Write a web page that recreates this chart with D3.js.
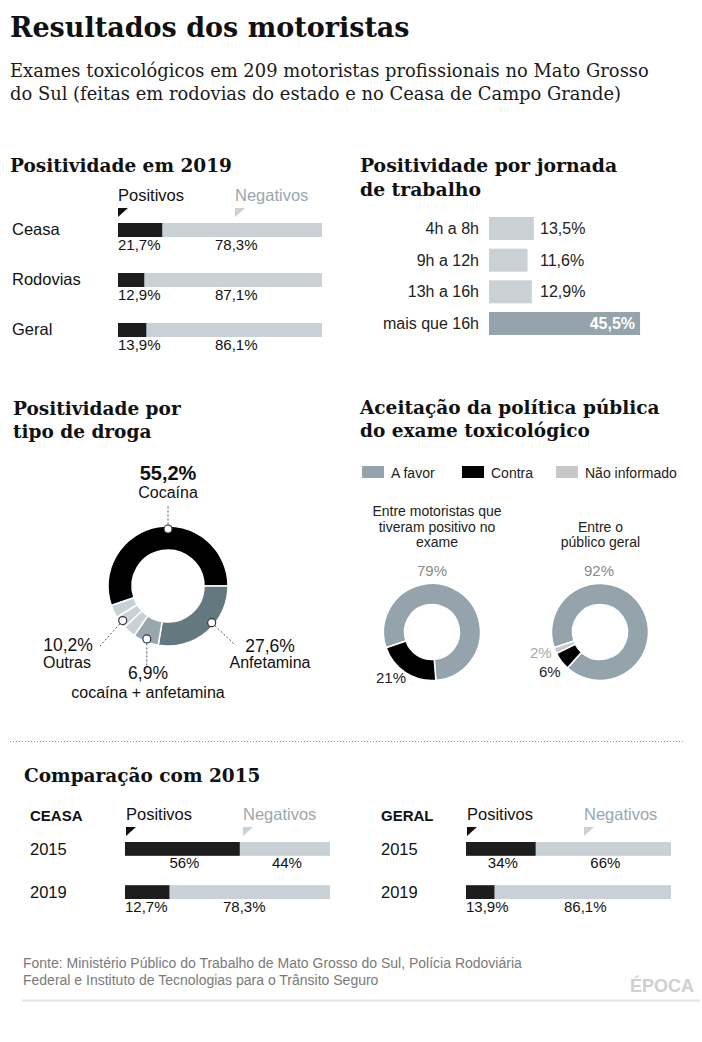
<!DOCTYPE html>
<html>
<head>
<meta charset="utf-8">
<script src="https://cdn.jsdelivr.net/npm/d3@7"></script>
<style>
  body { margin: 0; background: #fff; }
  svg text { font-family: "Liberation Sans", Arial, sans-serif; }
  svg text.serif { font-family: "DejaVu Serif", Georgia, serif; }
</style>
</head>
<body>
<svg id="chart" width="702" height="1042"></svg>
<script>
"use strict";

// ---- data ----
const TITLE = "Resultados dos motoristas";
const SUBTITLE = ["Exames toxicológicos em 209 motoristas profissionais no Mato Grosso",
                  "do Sul (feitas em rodovias do estado e no Ceasa de Campo Grande)"];

// Positividade em 2019
const rows2019 = ["Ceasa", "Rodovias", "Geral"];
const pos2019 = [21.7, 12.9, 13.9];
const neg2019 = [78.3, 87.1, 86.1];

// Positividade por jornada de trabalho
const jornadaLabels = ["4h a 8h", "9h a 12h", "13h a 16h", "mais que 16h"];
const jornadaValues = [13.5, 11.6, 12.9, 45.5];

// Positividade por tipo de droga
const drogaNames = ["Cocaína", "Anfetamina", "cocaína + anfetamina", "Outras"];
const drogaValues = [55.2, 27.6, 6.9, 10.2];
const outrasParts = [3.4, 3.4, 3.4];   // "Outras" is drawn in three small pieces

// Aceitação da política pública
const aceitacaoCats = ["A favor", "Contra", "Não informado"];
const aceitacaoMotoristas = [79, 21, 0];
const aceitacaoPublico = [92, 6, 2];
const aceitacaoCaptions = [["Entre motoristas que", "tiveram positivo no", "exame"],
                           ["Entre o", "público geral"]];

// Comparação com 2015
const compYears = ["2015", "2019"];
const ceasaPos = [56, 21.7];          // 2019 bar drawn as 21,7 in the original
const ceasaNeg = [44, 78.3];
const ceasaPosText = ["56%", "12,7%"];
const ceasaNegText = ["44%", "78,3%"];
const geralPos = [34, 13.9];
const geralNeg = [66, 86.1];
const geralPosText = ["34%", "13,9%"];
const geralNegText = ["66%", "86,1%"];

const FONTE = ["Fonte: Ministério Público do Trabalho de Mato Grosso do Sul, Polícia Rodoviária",
               "Federal e Instituto de Tecnologias para o Trânsito Seguro"];

// ---- styles ----
const BLACK = "#1d1d1d";
const LIGHT = "#c9d0d6";
const NEG_TXT = "#9ba6ae";
const SLATE = "#95a3ac";
const deg = Math.PI / 180;
const START = -109 * deg;

const svg = d3.select("#chart");
svg.append("rect").attr("width", 702).attr("height", 1042).attr("fill", "#fff");

function fmt(v) { return String(v).replace(".", ",") + "%"; }

function text(g, x, y, s, size, opts = {}) {
    return g.append("text")
        .attr("x", x).attr("y", y)
        .attr("font-size", size)
        .attr("fill", opts.fill || "#111")
        .attr("font-weight", opts.weight || 400)
        .attr("text-anchor", opts.anchor || "start")
        .attr("class", opts.serif ? "serif" : null)
        .text(s);
}

function heading(lines, x, y, lh, size = 18.5) {
    lines.forEach((l, i) => text(svg, x, y + i * lh, l, size, { serif: true, weight: 700, fill: "#111" }));
}

// title block
text(svg, 10, 37, TITLE, 27, { serif: true, weight: 700 });
SUBTITLE.forEach((l, i) => text(svg, 10, 77 + i * 23, l, 17.9, { serif: true, fill: "#1a1a1a" }));

// little "pointer" triangles above the split bars
function pointer(g, x, y, color) {
    g.append("path").attr("d", `M${x},${y}L${x + 10},${y}L${x},${y + 9}Z`).attr("fill", color);
}

function legendPosNeg(g, x0, yText) {
    text(g, x0, yText, "Positivos", 16.5, { fill: "#111" });
    text(g, x0 + 117, yText, "Negativos", 16.5, { fill: NEG_TXT });
    pointer(g, x0, yText + 7, "#111");
    pointer(g, x0 + 117, yText + 7, LIGHT);
}

// ---- Positividade em 2019 ----
heading(["Positividade em 2019"], 10, 172, 0);
{
    const g = svg.append("g");
    const x = d3.scaleLinear().domain([0, 100]).range([118, 322]);
    const y = d3.scaleBand().domain(rows2019).range([223, 337]).paddingInner(0.72);
    legendPosNeg(g, 118, 201);
    const data = rows2019.map((r, i) => ({ row: r, pos: pos2019[i], neg: neg2019[i] }));
    g.selectAll("rect.neg").data(data).join("rect").attr("class", "neg")
        .attr("x", d => x(d.pos)).attr("y", d => y(d.row))
        .attr("width", d => x(d.pos + d.neg) - x(d.pos)).attr("height", y.bandwidth())
        .attr("fill", LIGHT);
    g.selectAll("rect.pos").data(data).join("rect").attr("class", "pos")
        .attr("x", x(0)).attr("y", d => y(d.row))
        .attr("width", d => x(d.pos) - x(0)).attr("height", y.bandwidth())
        .attr("fill", BLACK);
    data.forEach(d => {
        text(g, 12, y(d.row) + 12, d.row, 16.5, { fill: "#111" });
        text(g, x(0), y(d.row) + y.bandwidth() + 12.5, fmt(d.pos), 15, { fill: "#111" });
        text(g, x(0) + 97, y(d.row) + y.bandwidth() + 12.5, fmt(d.neg), 15, { fill: "#111" });
    });
}

// ---- Positividade por jornada ----
heading(["Positividade por jornada", "de trabalho"], 360, 172, 23.5, 18.8);
{
    const g = svg.append("g");
    const x = d3.scaleLinear().domain([0, 100]).range([489, 489 + 332]);
    const y = d3.scaleBand().domain(jornadaLabels).range([217, 335]).paddingInner(0.274);
    const data = jornadaLabels.map((l, i) => ({ label: l, value: jornadaValues[i] }));
    const maxV = d3.max(jornadaValues);
    g.selectAll("rect").data(data).join("rect")
        .attr("x", x(0)).attr("y", d => y(d.label))
        .attr("width", d => x(d.value) - x(0)).attr("height", y.bandwidth())
        .attr("fill", d => d.value === maxV ? SLATE : LIGHT);
    data.forEach(d => {
        const cy = y(d.label) + y.bandwidth() / 2 + 5.5;
        text(g, 479, cy, d.label, 16, { anchor: "end", fill: "#222" });
        if (d.value === maxV) {
            text(g, x(d.value) - 5, cy, fmt(d.value), 16, { anchor: "end", fill: "#fff", weight: 700 });
        } else {
            text(g, 540, cy, fmt(d.value), 16, { fill: "#222" });
        }
    });
}

// ---- Positividade por tipo de droga ----
heading(["Positividade por", "tipo de droga"], 13, 415, 22.5);
{
    const cx = 168, cy = 586;
    const colors = { "Cocaína": "#000000", "Anfetamina": "#647880", "cocaína + anfetamina": "#9aa6ae", "Outras": "#c9d1d6" };
    const items = [];
    drogaNames.forEach((n, i) => {
        if (n === "Outras") outrasParts.forEach(v => items.push({ name: n, value: v }));
        else items.push({ name: n, value: drogaValues[i] });
    });
    const pie = d3.pie().sort(null).value(d => d.value).startAngle(START).endAngle(START + 2 * Math.PI);
    const arc = d3.arc().innerRadius(36).outerRadius(60);
    const arcs = pie(items);
    const g = svg.append("g").attr("transform", `translate(${cx},${cy})`);
    g.selectAll("path").data(arcs).join("path")
        .attr("d", arc).attr("fill", d => colors[d.data.name])
        .attr("stroke", "#fff").attr("stroke-width", 1.5);

    // annotation placement (layout only)
    const notes = {
        "Cocaína":              { ang: 0,   end: [0, -80],  pct: [0, -106], name: [0, -88.5], bold: true },
        "Anfetamina":           { ang: 130, end: [66, 58],  pct: [102, 65.5], name: [102, 82] },
        "cocaína + anfetamina": { ang: null, end: null,     pct: [-20, 92.5], name: [-20, 112] },
        "Outras":               { ang: null, end: [-68, 60], pct: [-100, 65], name: [-101, 82] }
    };
    drogaNames.forEach((n, i) => {
        const parts = arcs.filter(a => a.data.name === n);
        const mid = (d3.min(parts, a => a.startAngle) + d3.max(parts, a => a.endAngle)) / 2;
        const nt = notes[n];
        const a = nt.ang === null ? mid : nt.ang * deg;
        const r = 57;
        const mx = r * Math.sin(a), my = -r * Math.cos(a);
        const end = nt.end || [mx, 80];
        const len = Math.hypot(end[0] - mx, end[1] - my);
        const ux = (end[0] - mx) / len, uy = (end[1] - my) / len;
        g.append("line")
            .attr("x1", mx + ux * 4.5).attr("y1", my + uy * 4.5)
            .attr("x2", end[0]).attr("y2", end[1])
            .attr("stroke", "#555").attr("stroke-width", 1).attr("stroke-dasharray", "2,2");
        g.append("circle").attr("cx", mx).attr("cy", my).attr("r", 4)
            .attr("fill", "#fff").attr("stroke", "#334").attr("stroke-width", 1.2);
        text(g, nt.pct[0], nt.pct[1], fmt(drogaValues[i]), nt.bold ? 20 : 17.5,
             { anchor: "middle", weight: nt.bold ? 700 : 400, fill: "#111" });
        text(g, nt.name[0], nt.name[1], n, 16, { anchor: "middle", fill: "#111" });
    });
}

// ---- Aceitação ----
heading(["Aceitação da política pública", "do exame toxicológico"], 360, 414, 22.5);
{
    const colors = { "A favor": SLATE, "Contra": "#000000", "Não informado": "#c8c8c8" };
    const labelColors = { "A favor": "#8a8a8a", "Contra": "#222", "Não informado": "#aaaaaa" };
    const g = svg.append("g");
    const lx = [362, 462, 556];
    aceitacaoCats.forEach((c, i) => {
        g.append("rect").attr("x", lx[i]).attr("y", 466).attr("width", 22).attr("height", 12).attr("fill", colors[c]);
        text(g, lx[i] + 29, 477.5, c, 14, { fill: "#222" });
    });

    const charts = [
        { cx: 432, cy: 632, capX: 437, values: aceitacaoMotoristas, captions: aceitacaoCaptions[0],
          pos: { "A favor": [0, -56, "middle"], "Contra": [-56, 51, "start"] } },
        { cx: 600, cy: 632, capX: 600.5, values: aceitacaoPublico, captions: aceitacaoCaptions[1],
          pos: { "A favor": [-1, -56, "middle"], "Contra": [-61, 45, "start"], "Não informado": [-70, 26, "start"] } }
    ];
    const pie = d3.pie().sort(null).value(d => d.value).startAngle(START).endAngle(START + 2 * Math.PI);
    const arc = d3.arc().innerRadius(27.5).outerRadius(48.5);
    charts.forEach(ch => {
        const n = ch.captions.length;
        ch.captions.forEach((l, i) => text(g, ch.capX, 547 - (n - 1 - i) * 15.3, l, 14, { anchor: "middle", fill: "#222" }));
        const items = aceitacaoCats.map((c, i) => ({ name: c, value: ch.values[i] })).filter(d => d.value > 0);
        const gg = g.append("g").attr("transform", `translate(${ch.cx},${ch.cy})`);
        gg.selectAll("path").data(pie(items)).join("path")
            .attr("d", arc).attr("fill", d => colors[d.data.name])
            .attr("stroke", "#fff").attr("stroke-width", 1.5);
        items.forEach(d => {
            const p = ch.pos[d.name];
            text(gg, p[0], p[1], d.value + "%", 15, { anchor: p[2], fill: labelColors[d.name] });
        });
    });
}

// dotted separator
svg.append("line").attr("x1", 10).attr("x2", 685).attr("y1", 741.5).attr("y2", 741.5)
    .attr("stroke", "#9a9a9a").attr("stroke-width", 1).attr("stroke-dasharray", "1,2");

// ---- Comparação com 2015 ----
heading(["Comparação com 2015"], 24, 781.5, 0);
function comparison(title, titleX, x0, pos, neg, posText, negText) {
    const g = svg.append("g");
    const x = d3.scaleLinear().domain([0, 100]).range([x0, x0 + 205]);
    const y = d3.scaleBand().domain(compYears).range([842, 899]).paddingInner(0.68);
    text(g, titleX, 821, title, 15, { weight: 700, fill: "#111" });
    legendPosNeg(g, x0 + 1, 820);
    const data = compYears.map((yr, i) => ({ yr, pos: pos[i], neg: neg[i], pt: posText[i], nt: negText[i] }));
    g.selectAll("rect.neg").data(data).join("rect").attr("class", "neg")
        .attr("x", d => x(d.pos)).attr("y", d => y(d.yr))
        .attr("width", d => x(d.pos + d.neg) - x(d.pos)).attr("height", y.bandwidth())
        .attr("fill", LIGHT);
    g.selectAll("rect.pos").data(data).join("rect").attr("class", "pos")
        .attr("x", x(0)).attr("y", d => y(d.yr))
        .attr("width", d => x(d.pos) - x(0)).attr("height", y.bandwidth())
        .attr("fill", BLACK);
    data.forEach((d, i) => {
        const yb = y(d.yr) + y.bandwidth() + 12.5;
        text(g, titleX, y(d.yr) + 12.5, d.yr, 16.5, { fill: "#111" });
        if (i === 0) {
            text(g, (x(0) + x(d.pos)) / 2 + 2, yb, d.pt, 15, { anchor: "middle", fill: "#111" });
            text(g, (x(d.pos) + x(100)) / 2 + 2, yb, d.nt, 15, { anchor: "middle", fill: "#111" });
        } else {
            text(g, x(0), yb, d.pt, 15, { fill: "#111" });
            text(g, x(0) + 98, yb, d.nt, 15, { fill: "#111" });
        }
    });
}
comparison("CEASA", 30, 125, ceasaPos, ceasaNeg, ceasaPosText, ceasaNegText);
comparison("GERAL", 381, 466, geralPos, geralNeg, geralPosText, geralNegText);

// ---- footer ----
FONTE.forEach((l, i) => text(svg, 23, 967.5 + i * 17.5, l, 14, { fill: "#7a7a7a" }));
text(svg, 694, 992, "ÉPOCA", 18, { anchor: "end", weight: 700, fill: "#cfcfcf" });
svg.append("line").attr("x1", 22).attr("x2", 700).attr("y1", 1000.5).attr("y2", 1000.5)
    .attr("stroke", "#e6e6e6").attr("stroke-width", 2);
</script>
</body>
</html>
